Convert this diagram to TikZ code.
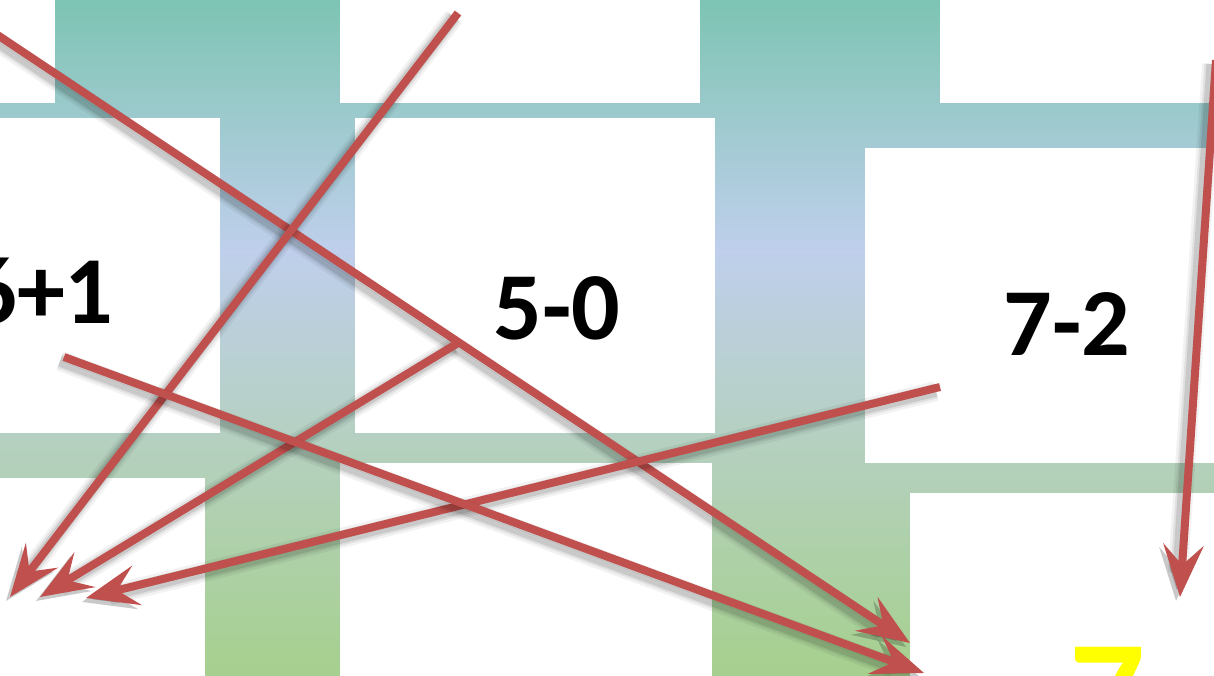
\documentclass[tikz,border=0pt]{standalone}
\usepackage{fontspec}
\setmainfont{Carlito}
\usetikzlibrary{arrows.meta}
\definecolor{arrred}{HTML}{C0504D}
\definecolor{bgA}{HTML}{7DC4B3}
\definecolor{bgB}{HTML}{98C9C9}
\definecolor{bgC}{HTML}{BFCFEC}
\definecolor{bgD}{HTML}{B5D0C0}
\definecolor{bgE}{HTML}{A6D08E}
\definecolor{ylw}{HTML}{FFFF00}
\begin{document}
\begin{tikzpicture}[x=1pt,y=-1pt,
  box/.style={fill=white},
  lbl/.style={inner sep=0pt, anchor=base, font=\bfseries\fontsize{96}{96}\selectfont, text=black},
  biglbl/.style={inner sep=0pt, anchor=base, font=\bfseries\fontsize{150}{150}\selectfont, text=ylw},
  arr/.style={draw=arrred, line width=8pt,
    -{Stealth[length=52pt,width=40pt,inset=20pt]},
    preaction={draw=black, draw opacity=0.05, fill=black, fill opacity=0.05, line width=20pt,
      transform canvas={shift={(-4pt,-4pt)}}},
    preaction={draw=black, draw opacity=0.07, fill=black, fill opacity=0.07, line width=15pt,
      transform canvas={shift={(-4pt,-4pt)}}},
    preaction={draw=black, draw opacity=0.10, fill=black, fill opacity=0.10, line width=11pt,
      transform canvas={shift={(-4pt,-4pt)}}}}
]
\useasboundingbox (0,0) rectangle (1214,676);
\clip (0,0) rectangle (1214,676);
% background gradient
\fill[top color=bgA, bottom color=bgB] (0,0) rectangle (1214,101);
\fill[top color=bgB, bottom color=bgC] (0,100) rectangle (1214,251);
\fill[top color=bgC, bottom color=bgD] (0,250) rectangle (1214,441);
\fill[top color=bgD, bottom color=bgE] (0,440) rectangle (1214,676);
% white boxes
\fill[box] (0,0) rectangle (55,103);
\fill[box] (340,0) rectangle (700,103);
\fill[box] (940,0) rectangle (1214,103);
\fill[box] (0,118) rectangle (220,433);
\fill[box] (355,118) rectangle (715,433);
\fill[box] (865,148) rectangle (1214,463);
\fill[box] (0,478) rectangle (205,676);
\fill[box] (340,463) rectangle (712,676);
\fill[box] (910,493) rectangle (1214,676);
% labels
\node[lbl] (t61) at (41,323) {6+1};
\node[lbl] (t50) at (557,339) {5-0};
\node[lbl] (t72) at (1067,355) {7-2};
\node[biglbl] (t7) at (1107,744) {7};
% arrow end points
\coordinate (a1s) at (-10,30);
\coordinate (a1e) at (910,643);
\coordinate (a2s) at (458,13);
\coordinate (a2e) at (10,597);
\coordinate (a3s) at (458,343);
\coordinate (a3e) at (40,597);
\coordinate (a4s) at (940,387);
\coordinate (a4e) at (86,598);
\coordinate (a5s) at (64,357);
\coordinate (a5e) at (924,673);
\coordinate (a6s) at (1216,60);
\coordinate (a6e) at (1180,597);
\draw[arr] (a1s) -- (a1e);
\draw[arr] (a2s) -- (a2e);
\draw[arr] (a3s) -- (a3e);
\draw[arr] (a4s) -- (a4e);
\draw[arr] (a5s) -- (a5e);
\draw[arr] (a6s) -- (a6e);
\end{tikzpicture}
\end{document}
